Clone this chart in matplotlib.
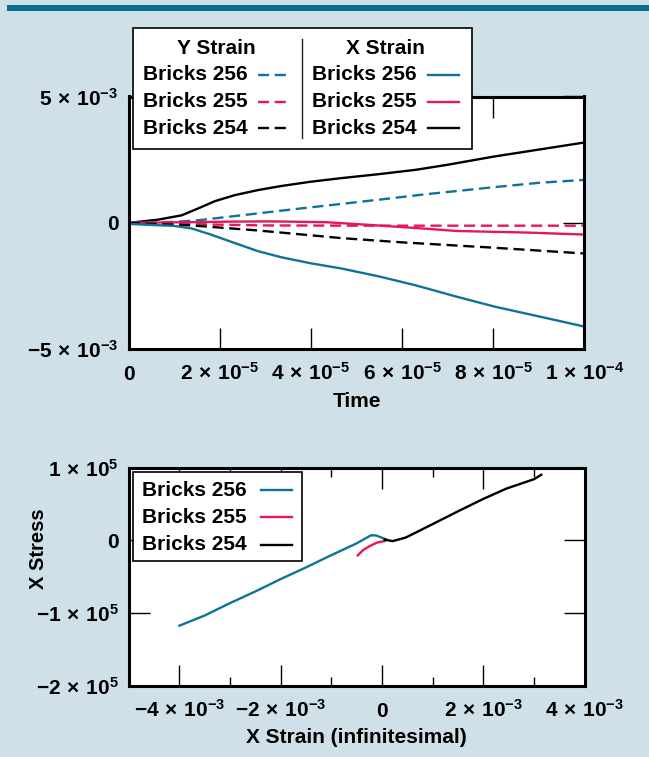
import numpy as np
import matplotlib.pyplot as plt
from matplotlib.lines import Line2D
from matplotlib.patches import Rectangle

plt.rcParams.update({
    'font.family': ['Liberation Sans', 'DejaVu Sans'],
    'font.weight': 'bold',
    'axes.labelweight': 'bold',
    'mathtext.fontset': 'custom',
    'mathtext.rm': 'Liberation Sans:bold',
    'mathtext.it': 'Liberation Sans:bold',
    'mathtext.bf': 'Liberation Sans:bold',
    'mathtext.sf': 'Liberation Sans:bold',
    'mathtext.default': 'rm',
    'axes.linewidth': 2.2,
    'lines.linewidth': 1.7,
})

TEAL = '#0e7398'
RED = '#e5175a'
BLACK = '#000000'
BG = '#cfe0e8'
DASH = (0, (4.7, 2.4))

# top panel: strain vs time (time in 1e-5 s, strain in 1e-3)
x254_t = [0, 0.65, 1.16, 1.52, 1.89, 2.33, 2.84, 3.35, 4.0, 4.66, 5.5, 6.3, 7.0, 8.0, 9.0, 10.0]
x254_v = [0, 0.13, 0.3, 0.57, 0.86, 1.1, 1.3, 1.46, 1.63, 1.77, 1.93, 2.1, 2.3, 2.62, 2.9, 3.18]
y256_t = [0, 1.0, 1.5, 2.47, 3.57, 4.66, 5.5, 6.5, 7.2, 8.05, 9.03, 10.0]
y256_v = [0, 0.04, 0.1, 0.3, 0.53, 0.75, 0.92, 1.13, 1.26, 1.42, 1.59, 1.7]
x255_t = [0, 1.35, 2.2, 3.1, 4.3, 5.3, 6.6, 7.2, 8.7, 10.0]
x255_v = [0, 0.03, 0.05, 0.06, 0.03, -0.08, -0.24, -0.32, -0.38, -0.46]
y255_t = [0, 1.0, 2.0, 3.0, 5.0, 7.5, 10.0]
y255_v = [0, -0.03, -0.07, -0.1, -0.11, -0.11, -0.11]
y254_t = [0, 1.38, 2.84, 4.66, 6.0, 8.0, 10.0]
y254_v = [0, -0.1, -0.3, -0.6, -0.77, -0.98, -1.21]
x256_t = [0, 1.0, 1.38, 1.8, 2.33, 2.84, 3.35, 4.0, 4.66, 5.5, 6.3, 7.2, 8.05, 9.03, 10.0]
x256_v = [-0.04, -0.12, -0.22, -0.46, -0.8, -1.12, -1.36, -1.6, -1.8, -2.12, -2.47, -2.92, -3.32, -3.71, -4.1]

# bottom panel: stress (1e5) vs strain (1e-3)
s256_e = [-4.0, -3.5, -3.0, -2.5, -2.0, -1.5, -1.04, -0.5, -0.22, -0.12, 0.08]
s256_s = [-1.17, -1.03, -0.86, -0.7, -0.53, -0.37, -0.215, -0.04, 0.07, 0.068, 0.014]
s255_e = [-0.48, -0.37, -0.25, -0.1, 0.05]
s255_s = [-0.205, -0.13, -0.08, -0.03, -0.01]
s254_e = [0.05, 0.21, 0.47, 0.93, 1.5, 2.0, 2.45, 3.0, 3.14]
s254_s = [0.01, -0.01, 0.04, 0.2, 0.4, 0.57, 0.71, 0.84, 0.9]

W, H = 649, 757
fig = plt.figure(figsize=(W / 100, H / 100), dpi=100, facecolor=BG)


def fxy(x, y):
    return x / W, 1 - y / H


def axes_px(x0, y0, x1, y1):
    return fig.add_axes([x0 / W, 1 - y1 / H, (x1 - x0) / W, (y1 - y0) / H])


def sci(m, e):
    return r'$%s\,\times\,10^{%s}$' % (m, e)


def style(ax, minor=False):
    ax.tick_params(which='major', direction='in', top=True, right=True,
                   length=14.8, width=1, labelsize=15)
    ax.tick_params(axis='x', pad=22)
    ax.tick_params(axis='y', pad=7.5)
    if minor:
        ax.tick_params(which='minor', direction='in', top=True, right=True,
                       length=6.7, width=1)
    plt.setp(ax.get_xticklabels(), va='baseline')


# top axes
ax1 = axes_px(128.8, 96.5, 584.3, 349.3)
ax1.plot(np.array(x254_t) * 1e-5, np.array(x254_v) * 1e-3, color=BLACK)
ax1.plot(np.array(y256_t) * 1e-5, np.array(y256_v) * 1e-3, color=TEAL, ls=DASH)
ax1.plot(np.array(x255_t) * 1e-5, np.array(x255_v) * 1e-3, color=RED)
ax1.plot(np.array(y255_t) * 1e-5, np.array(y255_v) * 1e-3, color=RED, ls=DASH)
ax1.plot(np.array(y254_t) * 1e-5, np.array(y254_v) * 1e-3, color=BLACK, ls=DASH)
ax1.plot(np.array(x256_t) * 1e-5, np.array(x256_v) * 1e-3, color=TEAL)
ax1.set_xlim(0, 1e-4)
ax1.set_ylim(-5e-3, 5e-3)
ax1.set_xticks([0, 2e-5, 4e-5, 6e-5, 8e-5, 1e-4],
               ['0', sci(2, -5), sci(4, -5), sci(6, -5), sci(8, -5), sci(1, -4)])
ax1.set_yticks([-5e-3, 0, 5e-3], [sci('-5', -3), '0', sci(5, -3)])
style(ax1)
ax1.set_xlabel('Time', fontsize=15)
ax1.xaxis.set_label_coords(0.5, -0.228)
ax1.xaxis.label.set_va('baseline')

# bottom axes
ax2 = axes_px(128.7, 467.5, 584.8, 686.2)
ax2.plot(np.array(s256_e) * 1e-3, np.array(s256_s) * 1e5, color=TEAL)
ax2.plot(np.array(s255_e) * 1e-3, np.array(s255_s) * 1e5, color=RED)
ax2.plot(np.array(s254_e) * 1e-3, np.array(s254_s) * 1e5, color=BLACK)
ax2.set_xlim(-5e-3, 4e-3)
ax2.set_ylim(-2e5, 1e5)
ax2.set_xticks([-4e-3, -2e-3, 0, 2e-3, 4e-3],
               [sci('-4', -3), sci('-2', -3), '0', sci(2, -3), sci(4, -3)])
ax2.set_xticks([-3e-3, -1e-3, 1e-3, 3e-3], minor=True)
ax2.set_yticks([-2e5, -1e5, 0, 1e5],
               [sci('-2', 5), sci('-1', 5), '0', sci(1, 5)])
style(ax2, minor=True)
ax2.set_xlabel('X Strain (infinitesimal)', fontsize=15)
ax2.xaxis.set_label_coords(0.5, -0.258)
ax2.xaxis.label.set_va('baseline')
ax2.set_ylabel('X Stress', fontsize=14.5)
ax2.yaxis.set_label_coords(-0.198, 0.627)
ax2.yaxis.label.set_va('center')


def box(x0, y0, x1, y1):
    fig.add_artist(Rectangle(fxy(x0, y1), (x1 - x0) / W, (y1 - y0) / H,
                             transform=fig.transFigure, facecolor='white',
                             edgecolor='black', lw=1.2, zorder=10))


def row(label, xt, y, xa, xb, color, ls):
    fig.text(*fxy(xt, y), label, ha='left', va='center', fontsize=15, zorder=11)
    fig.add_artist(Line2D([xa / W, xb / W], [1 - y / H] * 2, transform=fig.transFigure,
                          color=color, ls=ls, lw=1.7, zorder=11))


# header bar
fig.add_artist(Rectangle(fxy(7, 11), (W - 7) / W, 6 / H, transform=fig.transFigure,
                         facecolor='#08708f', edgecolor='none', zorder=10))

# top legend
box(132.7, 28.3, 471.7, 149.3)
fig.text(*fxy(216.5, 48.3), 'Y Strain', ha='center', va='center', fontsize=15, zorder=11)
fig.text(*fxy(385.5, 48.3), 'X Strain', ha='center', va='center', fontsize=15, zorder=11)
fig.add_artist(Line2D([302 / W] * 2, [1 - 39 / H, 1 - 138 / H], transform=fig.transFigure,
                      color='#222222', lw=1, zorder=11))
rows_y = [75, 101.7, 128.3]
names = ['Bricks 256', 'Bricks 255', 'Bricks 254']
colors = [TEAL, RED, BLACK]
for n, c, y in zip(names, colors, rows_y):
    row(n, 143.3, y, 258.3, 285.7, c, DASH)
    row(n, 312.3, y, 427.7, 459.3, c, '-')

# bottom legend
box(133.3, 472.3, 302.3, 560.7)
for n, c, y in zip(names, colors, [490, 517.3, 545]):
    row(n, 142.3, y, 260.7, 291.7, c, '-')

fig.savefig('out.png', dpi=100, facecolor=BG)
